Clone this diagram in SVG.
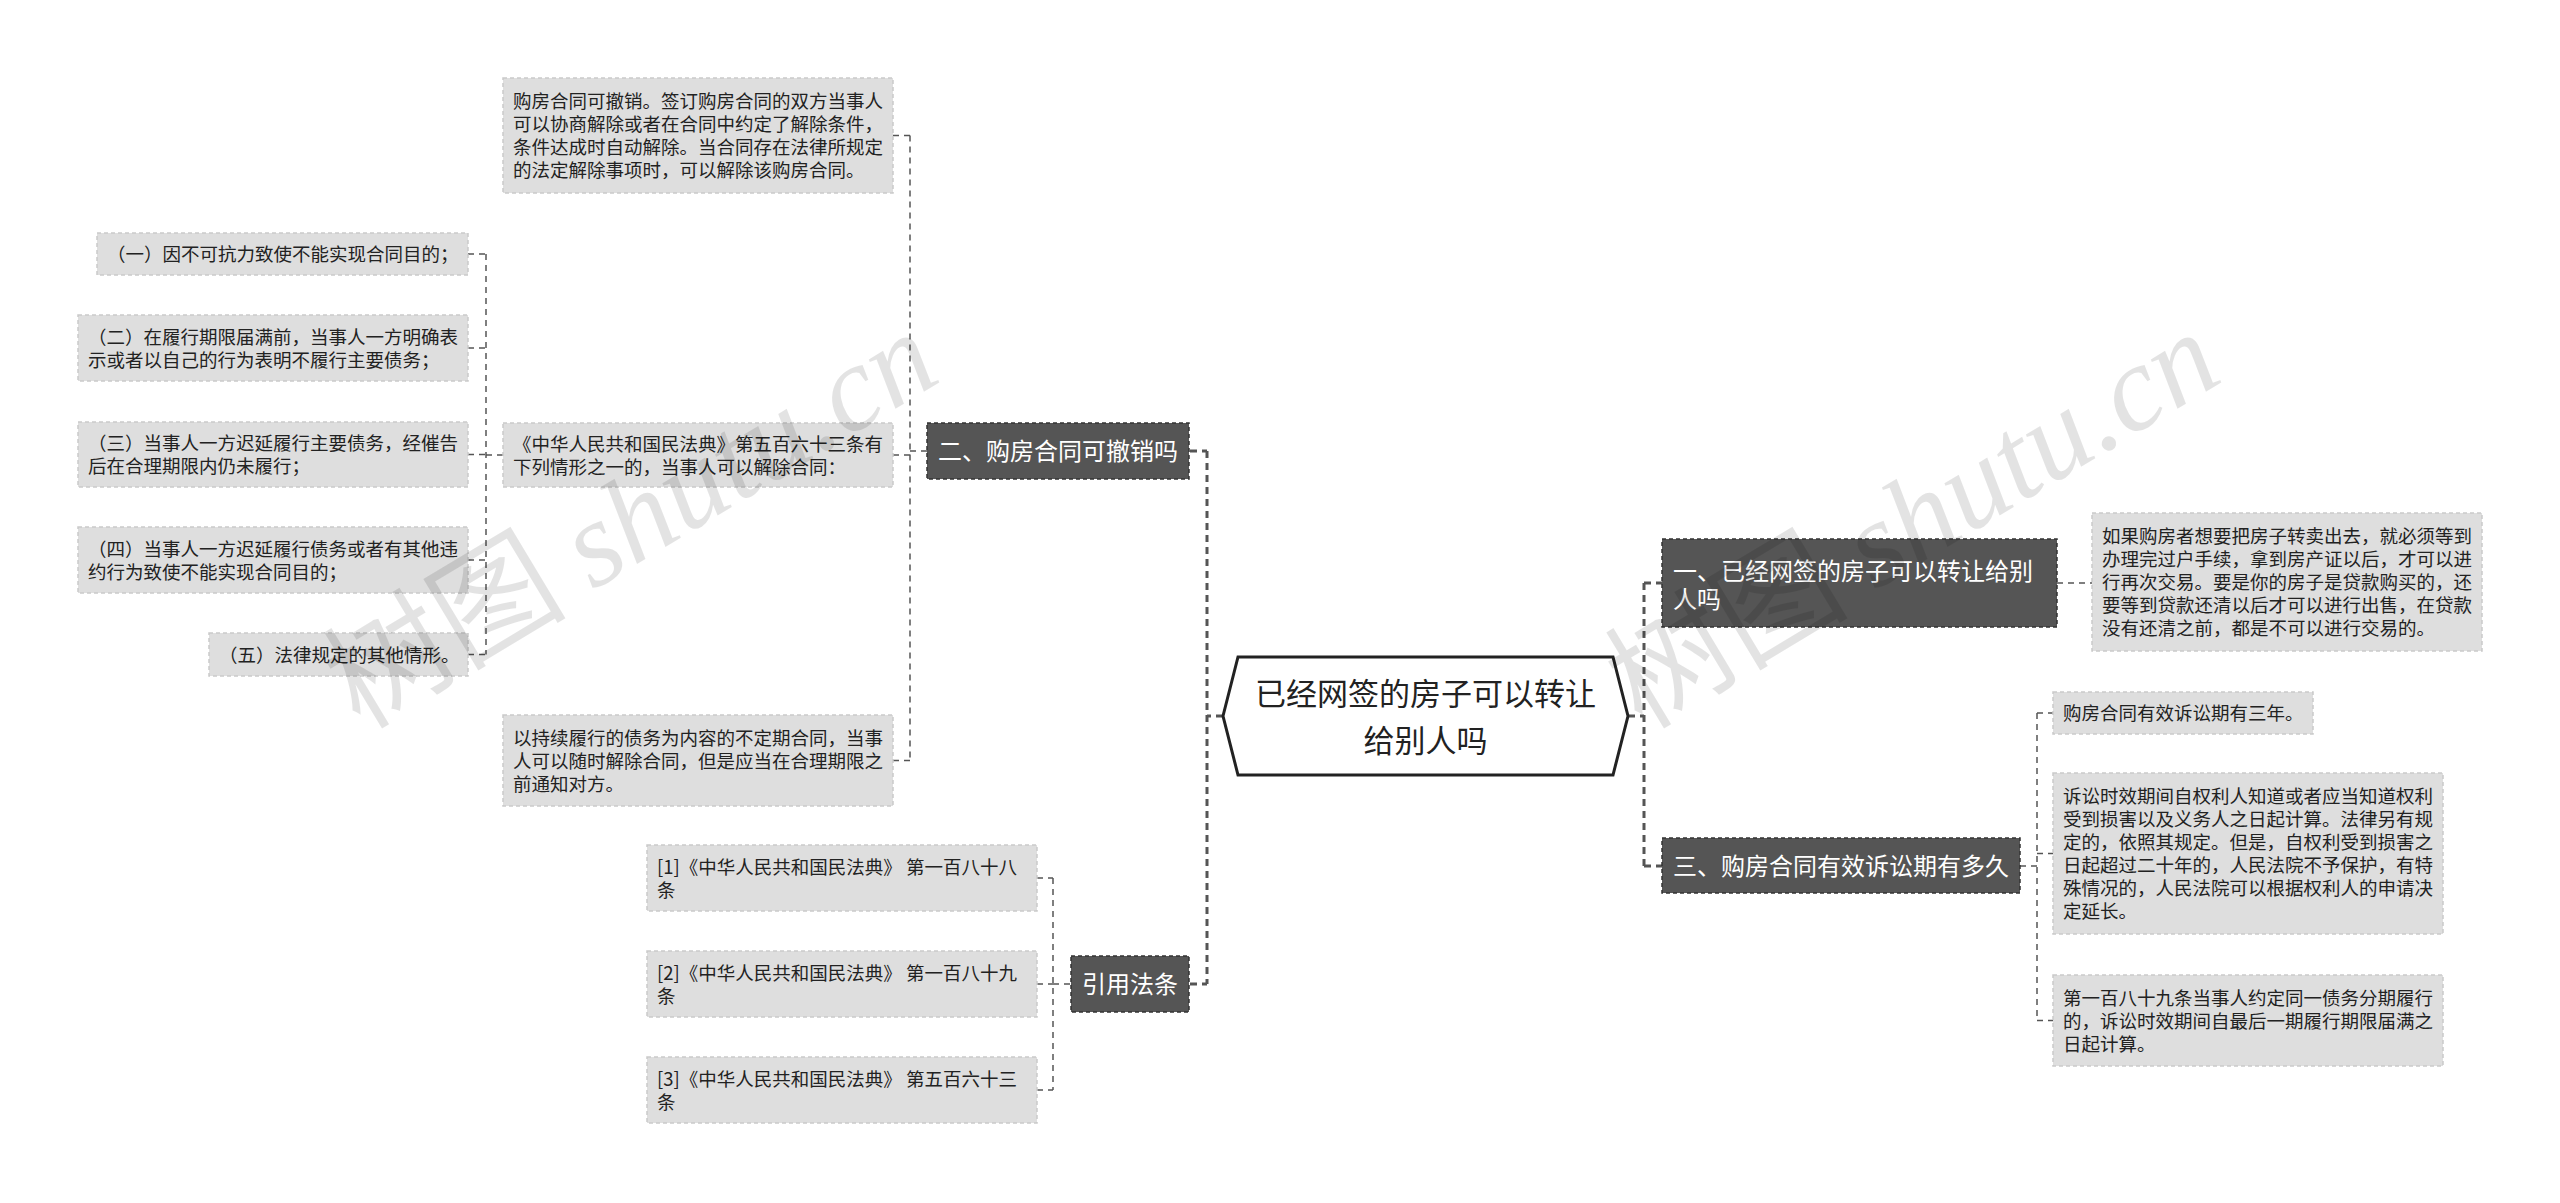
<svg xmlns="http://www.w3.org/2000/svg" width="2560" height="1203" viewBox="0 0 2560 1203">
<style>
.leaf rect{fill:#dedede;stroke:#cacaca;stroke-width:1.5;stroke-dasharray:4 3}
.lv1 rect{fill:#555555;stroke:#333333;stroke-width:1.5;stroke-dasharray:4 3}
text{font-family:'Noto Sans CJK SC','Liberation Sans',sans-serif}
.t{font-size:18.5px;fill:#222222}
.t1{font-size:24px;fill:#ffffff}
.t0{font-size:31px;fill:#222222}
.c1{stroke:#555555;stroke-width:3;stroke-dasharray:7 5;fill:none}
.c2{stroke:#555555;stroke-width:1.5;stroke-dasharray:6 5;fill:none}
.wm{font-size:122px;fill:#000000;fill-opacity:0.11}
</style>
<rect width="2560" height="1203" fill="#ffffff"/>
<g id="connectors">
<path class="c1" d="M1223,716 H1207 M1207,451 V984 M1190,451 H1207 M1190,984 H1207"/>
<path class="c1" d="M1628,716 H1644 M1644,583 V866 M1644,583 H1662 M1644,866 H1662"/>
<path class="c2" d="M893,135.5 H910 M910,135.5 V760.5 M893,455 H910 M893,760.5 H910 M910,451 H927"/>
<path class="c2" d="M486,254 V654.5 M468,254 H486 M468,348 H486 M468,454.5 H486 M468,560 H486 M468,654.5 H486 M486,455 H503"/>
<path class="c2" d="M2057,583 H2092"/>
<path class="c2" d="M2020,866 H2037 M2037,713 V1020.5 M2037,713 H2053 M2037,853.5 H2053 M2037,1020.5 H2053"/>
<path class="c2" d="M1037,878 H1053 M1053,878 V1090 M1037,984 H1053 M1037,1090 H1053 M1053,984 H1071"/>
</g>
<g id="root">
<polygon points="1223,716 1238,657 1613,657 1628,716 1613,775 1238,775" fill="#ffffff" stroke="#222222" stroke-width="3"/>
<text class="t0" x="1425.5" y="705" text-anchor="middle">已经网签的房子可以转让</text>
<text class="t0" x="1425.5" y="752" text-anchor="middle">给别人吗</text>
</g>
<g id="n2" class="lv1"><rect x="927" y="423" width="262" height="56"/><text class="t1" x="938" y="460">二、购房合同可撤销吗</text></g>
<g id="n4" class="lv1"><rect x="1071" y="956" width="118" height="56"/><text class="t1" x="1082" y="993">引用法条</text></g>
<g id="n1" class="lv1"><rect x="1662" y="539" width="395" height="88"/><text class="t1" x="1673" y="580">一、已经网签的房子可以转让给别</text><text class="t1" x="1673" y="608">人吗</text></g>
<g id="n3" class="lv1"><rect x="1662" y="838" width="358" height="55"/><text class="t1" x="1673" y="874.5">三、购房合同有效诉讼期有多久</text></g>
<g id="a1" class="leaf"><rect x="503" y="78" width="390" height="115"/>
<text class="t" x="513" y="108">购房合同可撤销。签订购房合同的双方当事人</text>
<text class="t" x="513" y="131">可以协商解除或者在合同中约定了解除条件，</text>
<text class="t" x="513" y="154">条件达成时自动解除。当合同存在法律所规定</text>
<text class="t" x="513" y="177">的法定解除事项时，可以解除该购房合同。</text></g>
<g id="a2" class="leaf"><rect x="503" y="423" width="390" height="64"/>
<text class="t" x="513" y="450.5">《中华人民共和国民法典》第五百六十三条有</text>
<text class="t" x="513" y="473.5">下列情形之一的，当事人可以解除合同：</text></g>
<g id="a3" class="leaf"><rect x="503" y="715" width="390" height="91"/>
<text class="t" x="513" y="744.5">以持续履行的债务为内容的不定期合同，当事</text>
<text class="t" x="513" y="767.5">人可以随时解除合同，但是应当在合理期限之</text>
<text class="t" x="513" y="790.5">前通知对方。</text></g>
<g id="b1" class="leaf"><rect x="97" y="233" width="371" height="42"/>
<text class="t" x="107" y="261">（一）因不可抗力致使不能实现合同目的；</text></g>
<g id="b2" class="leaf"><rect x="78" y="315" width="390" height="66"/>
<text class="t" x="88" y="343.5">（二）在履行期限届满前，当事人一方明确表</text>
<text class="t" x="88" y="366.5">示或者以自己的行为表明不履行主要债务；</text></g>
<g id="b3" class="leaf"><rect x="78" y="422" width="390" height="65"/>
<text class="t" x="88" y="450">（三）当事人一方迟延履行主要债务，经催告</text>
<text class="t" x="88" y="473">后在合理期限内仍未履行；</text></g>
<g id="b4" class="leaf"><rect x="78" y="527" width="390" height="66"/>
<text class="t" x="88" y="555.5">（四）当事人一方迟延履行债务或者有其他违</text>
<text class="t" x="88" y="578.5">约行为致使不能实现合同目的；</text></g>
<g id="b5" class="leaf"><rect x="209" y="633" width="259" height="43"/>
<text class="t" x="219" y="661.5">（五）法律规定的其他情形。</text></g>
<g id="r1" class="leaf"><rect x="647" y="845" width="390" height="66"/>
<text class="t" x="657" y="873.5">[1]《中华人民共和国民法典》 第一百八十八</text>
<text class="t" x="657" y="896.5">条</text></g>
<g id="r2" class="leaf"><rect x="647" y="951" width="390" height="66"/>
<text class="t" x="657" y="979.5">[2]《中华人民共和国民法典》 第一百八十九</text>
<text class="t" x="657" y="1002.5">条</text></g>
<g id="r3" class="leaf"><rect x="647" y="1057" width="390" height="66"/>
<text class="t" x="657" y="1085.5">[3]《中华人民共和国民法典》 第五百六十三</text>
<text class="t" x="657" y="1108.5">条</text></g>
<g id="d1" class="leaf"><rect x="2092" y="513" width="390" height="138"/>
<text class="t" x="2102" y="543">如果购房者想要把房子转卖出去，就必须等到</text>
<text class="t" x="2102" y="566">办理完过户手续，拿到房产证以后，才可以进</text>
<text class="t" x="2102" y="589">行再次交易。要是你的房子是贷款购买的，还</text>
<text class="t" x="2102" y="612">要等到贷款还清以后才可以进行出售，在贷款</text>
<text class="t" x="2102" y="635">没有还清之前，都是不可以进行交易的。</text></g>
<g id="e1" class="leaf"><rect x="2053" y="692" width="260" height="42"/>
<text class="t" x="2063" y="720">购房合同有效诉讼期有三年。</text></g>
<g id="e2" class="leaf"><rect x="2053" y="773" width="390" height="161"/>
<text class="t" x="2063" y="803">诉讼时效期间自权利人知道或者应当知道权利</text>
<text class="t" x="2063" y="826">受到损害以及义务人之日起计算。法律另有规</text>
<text class="t" x="2063" y="849">定的，依照其规定。但是，自权利受到损害之</text>
<text class="t" x="2063" y="872">日起超过二十年的，人民法院不予保护，有特</text>
<text class="t" x="2063" y="895">殊情况的，人民法院可以根据权利人的申请决</text>
<text class="t" x="2063" y="918">定延长。</text></g>
<g id="e3" class="leaf"><rect x="2053" y="975" width="390" height="91"/>
<text class="t" x="2063" y="1004.5">第一百八十九条当事人约定同一债务分期履行</text>
<text class="t" x="2063" y="1027.5">的，诉讼时效期间自最后一期履行期限届满之</text>
<text class="t" x="2063" y="1050.5">日起计算。</text></g>
<g id="watermarks">
<text class="wm" x="0" y="0" text-anchor="middle" transform="translate(652,555) rotate(-31)">树图 <tspan font-family="'Liberation Serif',serif" font-style="italic">shutu.cn</tspan></text>
<text class="wm" x="0" y="0" text-anchor="middle" transform="translate(1934,555) rotate(-31)">树图 <tspan font-family="'Liberation Serif',serif" font-style="italic">shutu.cn</tspan></text>
</g>
</svg>
